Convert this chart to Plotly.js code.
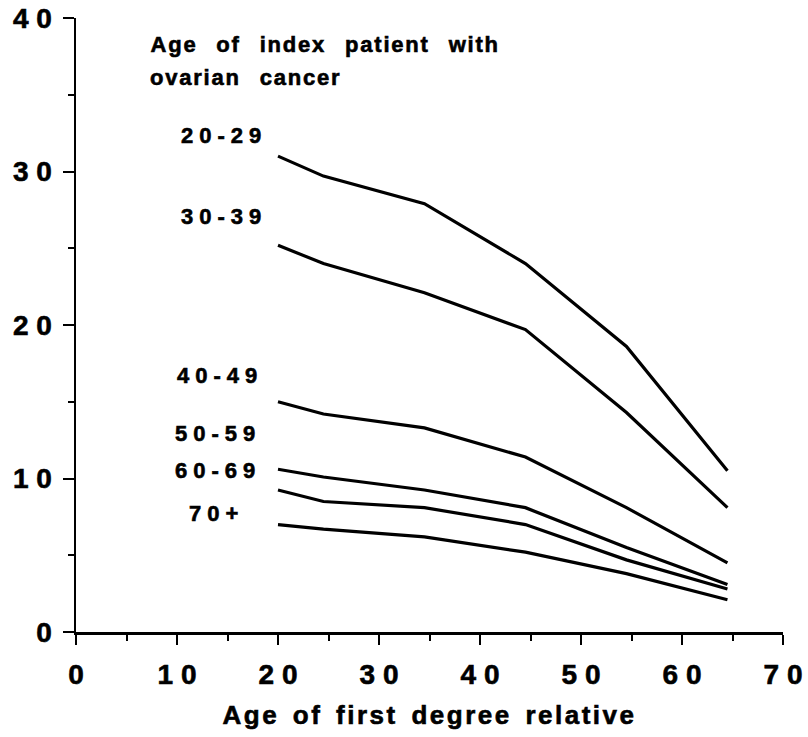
<!DOCTYPE html>
<html>
<head>
<meta charset="utf-8">
<script src="https://cdn.plot.ly/plotly-3.0.1.min.js"></script>
<style>
  html, body { margin: 0; padding: 0; background: #fff; }
  #chart { width: 808px; height: 737px; }
  .annotation[data-index="0"] text, .annotation[data-index="1"] text { letter-spacing: 1.8px; word-spacing: 11px; }
  .annotation[data-index="2"] text, .annotation[data-index="3"] text, .annotation[data-index="4"] text,
  .annotation[data-index="5"] text, .annotation[data-index="6"] text, .annotation[data-index="7"] text { letter-spacing: 6px; }
  .g-xtitle text { letter-spacing: 2.5px; word-spacing: 4px; }
  .main-svg text { stroke: #000; stroke-width: 0.6px; }
</style>
</head>
<body>
<div id="chart"></div>
<script>
// Age of first degree relative (x positions of the curve vertices)
const relativeAge = [20, 24.5, 34.5, 44.5, 54.5, 64.5];

// Age group of the index patient with ovarian cancer
const groups = ['20-29', '30-39', '40-49', '50-59', '60-69', '70+'];

// Cumulative risk curves per index-patient age group
const risk2029 = [31.0, 29.7, 27.9, 24.0, 18.6, 10.5];
const risk3039 = [25.2, 24.0, 22.1, 19.7, 14.3, 8.1];
const risk4049 = [15.0, 14.2, 13.3, 11.4, 8.1, 4.5];
const risk5059 = [10.6, 10.1, 9.25, 8.1, 5.5, 3.1];
const risk6069 = [9.25, 8.5, 8.1, 7.0, 4.7, 2.8];
const risk70 = [7.0, 6.7, 6.2, 5.2, 3.8, 2.1];

// Label anchor positions for each group label
const labelY = [32.35, 27.07, 16.74, 12.93, 10.55, 7.69];
const labelX = [14.62, 14.67, 14.28, 14.08, 14.08, 13.93];

// Tick values
const xTicks = [0, 10, 20, 30, 40, 50, 60, 70];
const yTicks = [0, 10, 20, 30, 40];

const header = ['Age of index patient with', 'ovarian cancer'];
const xTitle = 'Age of first degree relative';

const series = [risk2029, risk3039, risk4049, risk5059, risk6069, risk70];
const font = 'Liberation Sans, Arial, Helvetica, sans-serif';

const traces = series.map((ys, i) => ({
  x: relativeAge,
  y: ys,
  type: 'scatter',
  mode: 'lines',
  name: groups[i],
  line: { color: '#000', width: 3.2 },
  hoverinfo: 'skip'
}));

const spaced = s => String(s).split('').join(' ');

const annotations = [
  { text: header[0], x: 11.55, y: 38.3, xanchor: 'left', yanchor: 'middle' },
  { text: header[1], x: 8.9, y: 36.15, xanchor: 'left', yanchor: 'middle' }
].map(a => Object.assign(a, { xref: 'x', yref: 'y', showarrow: false,
  font: { family: font, size: 22, color: '#000', weight: 'bold' } }));

groups.forEach((g, i) => {
  annotations.push({
    text: g, x: labelX[i], y: labelY[i], xref: 'x', yref: 'y',
    xanchor: 'center', yanchor: 'middle', showarrow: false,
    font: { family: font, size: 22, color: '#000', weight: 'bold' }
  });
});

const layout = {
  width: 808, height: 737,
  margin: { l: 76, r: 25, t: 18, b: 105 },
  paper_bgcolor: '#fff', plot_bgcolor: '#fff',
  showlegend: false,
  font: { family: font, color: '#000' },
  xaxis: {
    range: [0, 70], showgrid: false, zeroline: false,
    showline: true, linecolor: '#000', linewidth: 2.5,
    ticks: 'outside', ticklen: 10, tickwidth: 2, tickcolor: '#000',
    tickvals: xTicks, ticktext: xTicks.map(spaced),
    minor: { dtick: 5, ticks: 'outside', ticklen: 6, tickwidth: 2, tickcolor: '#000' },
    tickfont: { family: font, size: 28, color: '#000', weight: 'bold' },
    ticklabelstandoff: 6,
    title: { text: xTitle, standoff: 17,
      font: { family: font, size: 26, color: '#000', weight: 'bold' } }
  },
  yaxis: {
    range: [0, 40], showgrid: false, zeroline: false,
    showline: true, linecolor: '#000', linewidth: 2.5,
    ticks: 'outside', ticklen: 11, tickwidth: 2, tickcolor: '#000',
    tickvals: yTicks, ticktext: yTicks.map(spaced),
    minor: { dtick: 5, ticks: 'outside', ticklen: 6, tickwidth: 2, tickcolor: '#000' },
    tickfont: { family: font, size: 28, color: '#000', weight: 'bold' },
    ticklabelstandoff: 5
  },
  annotations: annotations
};

Plotly.newPlot('chart', traces, layout, { staticPlot: true, displayModeBar: false });
</script>
</body>
</html>
